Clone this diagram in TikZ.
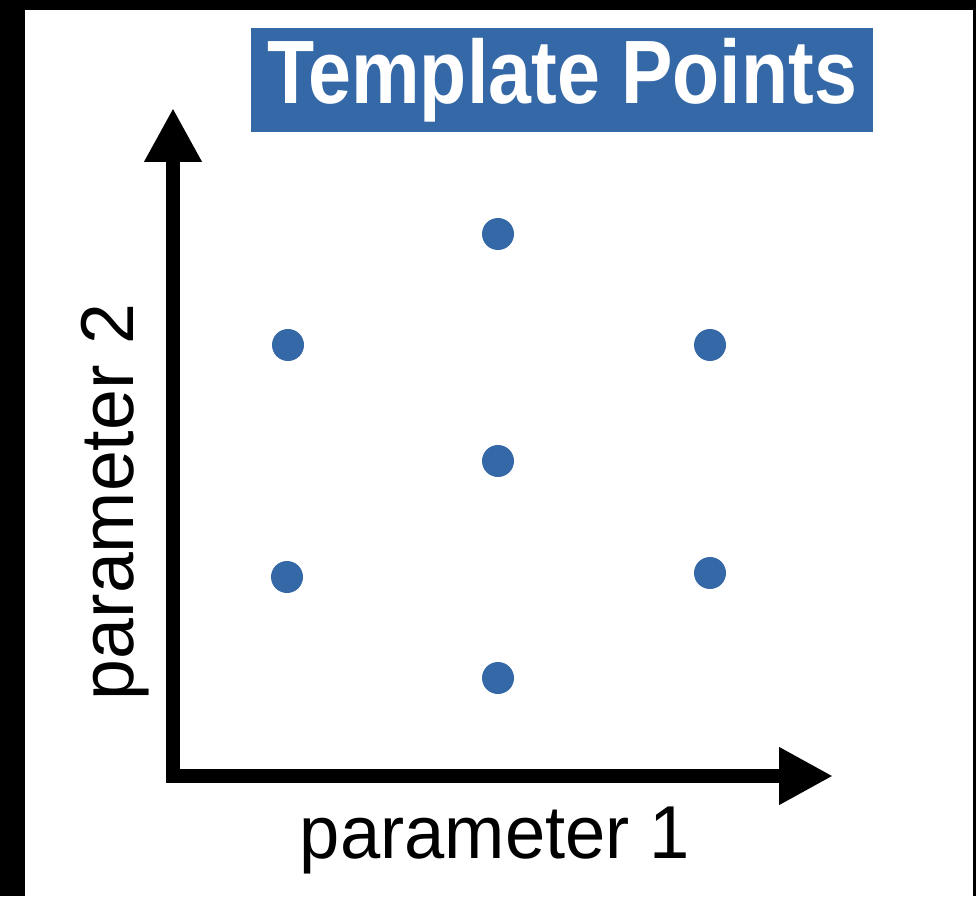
\documentclass[tikz,border=0pt]{standalone}
\usepackage{fontspec}
\setmainfont{Liberation Sans}
\usepackage{graphicx}
\usetikzlibrary{arrows.meta}
\definecolor{tblue}{HTML}{3568A6}
\begin{document}
\begin{tikzpicture}[x=1pt,y=-1pt,
  dot/.style={circle,fill=tblue,inner sep=0pt,minimum size=32pt},
  axis/.style={line width=14pt,line join=miter,{Triangle[length=54pt,width=54pt]}-{Triangle[length=54pt,width=54pt]}},
  axlabel/.style={inner sep=0pt}]
\useasboundingbox (0,0) rectangle (976,896);
\fill[black] (0,0) rectangle (976,896);
\fill[white] (25,10) rectangle (973,896);
% title
\node[fill=tblue,minimum width=622pt,minimum height=104pt,inner sep=0pt,text=white] (title) at (562,80)
  {\raisebox{4pt}{\resizebox{590pt}{\height}{\fontsize{90}{94}\selectfont\bfseries Template Points}}};
% axes
\coordinate (ytip) at (173,108);
\coordinate (origin) at (173,776);
\coordinate (xtip) at (833,776);
\draw[axis] (ytip) -- (origin) -- (xtip);
% labels
\node[axlabel,anchor=base] (xlab) at (495,858) {\resizebox{390pt}{\height}{\fontsize{75}{80}\selectfont parameter 1}};
\node[axlabel,anchor=base,rotate=90] (ylab) at (133,502) {\resizebox{396pt}{\height}{\fontsize{75}{80}\selectfont parameter 2}};
% points
\node[dot] (p1) at (498,234) {};
\node[dot] (p2) at (288,345) {};
\node[dot] (p3) at (710,345) {};
\node[dot] (p4) at (498,461) {};
\node[dot] (p5) at (287,577) {};
\node[dot] (p6) at (710,573) {};
\node[dot] (p7) at (498,678) {};
\end{tikzpicture}
\end{document}
